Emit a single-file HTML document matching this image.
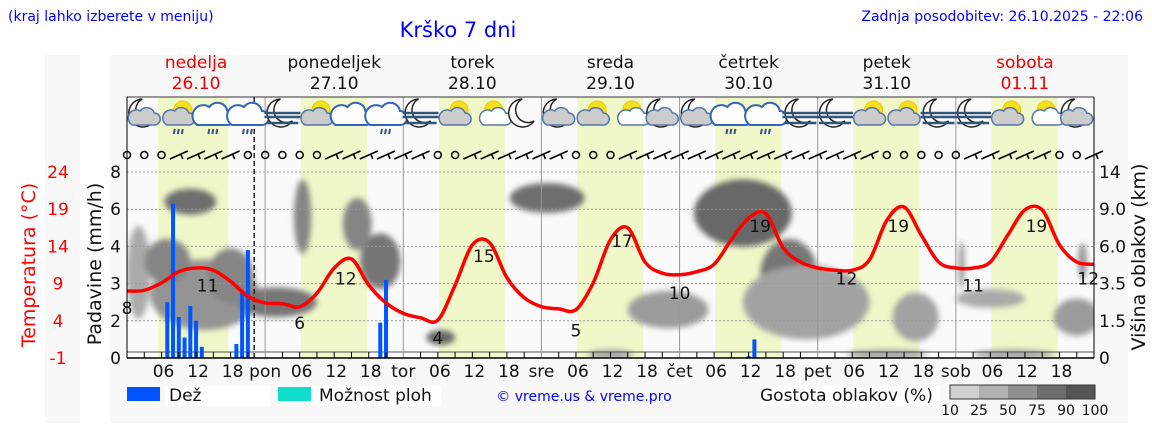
<!DOCTYPE html>
<html><head><meta charset="utf-8"><style>
body{margin:0;background:#fff;width:1152px;height:443px;overflow:hidden;font-family:"Liberation Sans","DejaVu Sans",sans-serif}
svg text{font-family:"DejaVu Sans","Liberation Sans",sans-serif}
</style></head><body>
<svg id="c" width="1152" height="443" viewBox="0 0 1152 443">
<defs><filter id="bl" x="-50%" y="-50%" width="200%" height="200%"><feGaussianBlur stdDeviation="3"/></filter>
<clipPath id="pc"><rect x="127" y="172" width="967" height="186"/></clipPath></defs>
<rect x="45" y="55" width="35" height="368" fill="#f8f8f8"/>
<rect x="110" y="55" width="1018" height="368" fill="#f8f8f8"/>
<text x="8" y="21" font-size="14" fill="#0000ff">(kraj lahko izberete v meniju)</text>
<text x="458" y="37" font-size="21" fill="#0000ff" text-anchor="middle">Krško 7 dni</text>
<text x="1143" y="21" font-size="14" fill="#0000ff" text-anchor="end">Zadnja posodobitev: 26.10.2025 - 22:06</text>
<g id="g"></g>
</svg>
<script>
const days=["nedelja","ponedeljek","torek","sreda","četrtek","petek","sobota"];
const dates=["26.10","27.10","28.10","29.10","30.10","31.10","01.11"];
const dayAbbr=["","pon","tor","sre","čet","pet","sob"];
const tempVals=[8.0,8.1,9.1,10.6,11.1,10.8,9.3,7.3,6.4,6.3,5.9,7.7,11.1,12.3,8.8,6.4,5.0,4.4,4.1,8.8,14.2,14.5,9.8,7.1,5.9,5.6,5.5,9.1,14.9,16.5,11.9,10.4,10.2,10.6,11.6,14.9,17.8,18.4,13.8,11.9,11.1,10.8,10.8,12.2,17.5,19.3,15.5,11.9,11.1,11.1,11.9,15.5,18.9,18.9,14.2,11.9,11.6];
const tempLabelHours=[0,14,30,38,54,62,78,86,96,110,125,134,147,158,167];
const tempLabelVals=[8,11,6,12,4,15,5,17,10,19,12,19,11,19,12];
const rainHours=[7,8,9,10,11,12,13,19,20,21,22,44,45,108,109];
const rainVals=[2.5,6.3,2.1,1.1,2.4,2.0,0.6,0.75,2.75,3.9,0.05,1.9,3.1,0.1,1.0];
const precipTicks=[0,2,3,4,6,8];
const tempTicks=[-1,4,9,14,19,24];
const kmTicks=["0","1.5","3.5","6.0","9.0","14"];
const cloudH=[2,13.5,11,26,30.5,44,40,73,94,54.5,107,115,118,137,150,145,165,166,84,132,154,7,18];
const cloudLvl=[2.3,1.7,4.2,1.5,3.8,2.6,3.6,4.3,1.3,0.55,3.9,2.2,1.5,1.1,1.6,2.5,1.1,2.6,0.1,0.1,0.1,2.6,2.2];
const cloudW=[4,19,9,14,3,7,5,13,14,5,17,10,22,8,12,1,8,1.5,8,14,14,8,8];
const cloudHt=[2.5,1.9,0.7,0.8,2,1.5,1.4,0.8,1.0,0.4,1.8,2,2,1.3,0.5,1.3,1,1,0.25,0.25,0.25,1.2,1.5];
const cloudD=[0.3,0.45,0.7,0.65,0.55,0.65,0.55,0.7,0.4,0.75,0.75,0.65,0.35,0.35,0.3,0.45,0.4,0.45,0.35,0.35,0.35,0.55,0.55];
const icons=["mc","sr","cr","cr","mf","sc","c","cr","mf","sc","ss","m","mc","sc","ss","mc","mc","cr","cr","mf","mf","sc","sc","mf","mf","sc","ss","mc"];
const wind=["o","o","o","b","b","b","b","o","o","o","o","o","b","b","b","b","b","b","o","o","b","b","b","b","b","b","o","o","o","b","b","b","b","b","b","b","b","b","b","b","b","b","b","b","o","o","o","o","o","b","b","b","b","b","o","o","b","b","b","b","b"];
const X0=127,PX=967/168,Y0=358,STEP=37.2;
const xH=h=>X0+h*PX;
const yT=t=>Y0-(t+1)/5*STEP;
function yP(v){for(let i=1;i<precipTicks.length;i++){if(v<=precipTicks[i]){const a=precipTicks[i-1],b=precipTicks[i];return Y0-(i-1+(v-a)/(b-a))*STEP;}}return Y0-5*STEP;}
const yL=l=>Y0-l*STEP;
const NS="http://www.w3.org/2000/svg",G=document.getElementById('g');
function el(t,a,p){const e=document.createElementNS(NS,t);for(const k in a)e.setAttribute(k,a[k]);(p||G).appendChild(e);return e;}
el('rect',{x:127,y:97,width:967,height:261,fill:'#fafafa'});
for(let d=0;d<7;d++){
 const b=el('rect',{x:xH(d*24+(d==0?5.4:6.2)),y:97,width:(d==0?12.2:11.5)*PX,height:261,fill:'#f0f7c8'});
 
 
}
const cg=el('g',{'clip-path':'url(#pc)'});
const cg2=el('g',{filter:'url(#bl)'},cg);
for(let i=0;i<cloudH.length;i++){
 const c=Math.round(215-cloudD[i]*150);
 const e=el('ellipse',{cx:xH(cloudH[i]),cy:yL(cloudLvl[i]),rx:cloudW[i]*PX/2,ry:cloudHt[i]*STEP/2,fill:`rgb(${c},${c},${c})`},cg2);
 
 
}
for(let i=1;i<6;i++)el('line',{x1:127,x2:1094,y1:Y0-i*STEP,y2:Y0-i*STEP,stroke:'#999','stroke-dasharray':'2,2','stroke-width':1});
el('line',{x1:127,x2:1094,y1:352,y2:352,stroke:'#555','stroke-width':1});
for(let d=1;d<7;d++)el('line',{x1:xH(d*24),x2:xH(d*24),y1:97,y2:358,stroke:'#999'});
el('line',{x1:127,x2:1094,y1:97,y2:97,stroke:'#333'});
el('line',{x1:xH(22.1),x2:xH(22.1),y1:97,y2:358,stroke:'#222','stroke-dasharray':'5,3','stroke-width':1.5});
for(let i=0;i<rainHours.length;i++){
 const y=yP(rainVals[i]);
 const r=el('rect',{x:xH(rainHours[i])-2,y:y,width:4,height:Y0-y,fill:'#0055ff'});
 
 
}
// smooth temp line
const pts=tempVals.map((t,i)=>[xH(i*3),yT(t)]);
let d='M'+pts[0][0].toFixed(1)+','+pts[0][1].toFixed(1);
for(let i=0;i<pts.length-1;i++){
 const p0=pts[Math.max(0,i-1)],p1=pts[i],p2=pts[i+1],p3=pts[Math.min(pts.length-1,i+2)];
 const c1=[p1[0]+(p2[0]-p0[0])/6,p1[1]+(p2[1]-p0[1])/6],c2=[p2[0]-(p3[0]-p1[0])/6,p2[1]-(p3[1]-p1[1])/6];
 d+=`C${c1[0].toFixed(1)},${c1[1].toFixed(1)} ${c2[0].toFixed(1)},${c2[1].toFixed(1)} ${p2[0].toFixed(1)},${p2[1].toFixed(1)}`;
}
const tl=el('path',{d:d,fill:'none',stroke:'#ff0000','stroke-width':3.5,'stroke-linejoin':'round'});


tempLabelHours.forEach((h,i)=>{
 const v=tempLabelVals[i];
 const t=el('text',{x:xH(h),y:yT(v)+23,'font-size':17,'text-anchor':'middle',fill:'#111'});
 t.textContent=v;
 
 
});
el('line',{x1:127,x2:127,y1:97,y2:358,stroke:'#000'});
el('line',{x1:1094,x2:1094,y1:97,y2:358,stroke:'#000'});
el('line',{x1:127,x2:1094,y1:358,y2:358,stroke:'#000','stroke-width':1.5});
for(let h=3;h<168;h+=3)if(h%24)el('line',{x1:xH(h),x2:xH(h),y1:358,y2:352,stroke:'#000','stroke-width':1});
for(let i=0;i<6;i++){
 const y=Y0-i*STEP;
 let t=el('text',{x:121,y:y+6,'font-size':17,'text-anchor':'end',fill:'#111'});t.textContent=precipTicks[i];
 
 t=el('text',{x:58,y:y+6,'font-size':17,'text-anchor':'middle',fill:'#ff0000'});t.textContent=tempTicks[i];
 
 t=el('text',{x:1099,y:y+6,'font-size':17,fill:'#111'});t.textContent=kmTicks[i];
 
}
for(let dd=0;dd<7;dd++){
 ["06","12","18"].forEach((s,k)=>{const t=el('text',{x:xH(dd*24+6*(k+1))+2,y:377,'font-size':17,'text-anchor':'middle',fill:'#111'});t.textContent=s;
 });
 if(dd>0){const t=el('text',{x:xH(dd*24),y:377,'font-size':17,'text-anchor':'middle',fill:'#111'});t.textContent=dayAbbr[dd];
 }
 const red=dd==0||dd==6?'#ee0000':'#111';
 let t=el('text',{x:xH(dd*24+12),y:68,'font-size':17,'text-anchor':'middle',fill:red});t.textContent=days[dd];
 
 t=el('text',{x:xH(dd*24+12),y:89,'font-size':17,'text-anchor':'middle',fill:red});t.textContent=dates[dd];
 
}
let at=el('text',{transform:'translate(35,265) rotate(-90)','font-size':19,'text-anchor':'middle',fill:'#ff0000'});at.textContent='Temperatura (°C)';

at=el('text',{transform:'translate(101,264) rotate(-90)','font-size':19,'text-anchor':'middle',fill:'#111'});at.textContent='Padavine (mm/h)';

at=el('text',{transform:'translate(1145,257) rotate(-90)','font-size':19,'text-anchor':'middle',fill:'#111'});at.textContent='Višina oblakov (km)';

icons.forEach((k,i)=>{
 const cx=xH(3+i*6),cy=115;
 const g=el('g',{});
 
 if(k[0]=='m'){el('path',{d:`M${cx-2},${cy-16} a14,14 0 1,0 12,22 a11,11 0 1,1 -12,-22z`,fill:'#fff',stroke:'#222','stroke-width':1.5},g);}
 if(k[0]=='s'){el('circle',{cx:cx+4,cy:cy-5,r:9,fill:'#f4e020',stroke:'#f0c800'},g);}
 if(k=='mc'||k=='sc'||k=='sr'||k=='ss'){const s=k=='ss'?0.6:1;el('path',{d:`M${cx-12*s+ (k=='ss'?10:0)},${cy+10} h${22*s} a6,6 0 0,0 0,-12 a8,8 0 0,0 -14,-2 a6,6 0 0,0 -8,14z`,fill:k=='ss'?'#fff':'#ccc',stroke:'#5577aa','stroke-width':1.5},g);}
 if(k=='c'||k=='cr'){el('path',{d:`M${cx-16},${cy+10} h30 a7,7 0 0,0 0,-14 a10,10 0 0,0 -18,-4 a8,8 0 0,0 -12,18z`,fill:'#fff',stroke:'#3366bb','stroke-width':2},g);}
 if(k=='cr'||k=='sr'){el('path',{d:`M${cx-4},${cy+14} l-1,5 M${cx},${cy+14} l-1,5 M${cx+4},${cy+14} l-1,5`,stroke:'#335588','stroke-width':2},g);}
 if(k[1]=='f'){el('path',{d:`M${cx-18},${cy-2} h36 M${cx-18},${cy+2} h36 M${cx-16},${cy+8} h32`,stroke:'#335577','stroke-width':2.5},g);}
});
wind.forEach((w,i)=>{
 const cx=xH(i*3),cy=155;
 if(cx>1094)return;
 let e;
 if(w=='o')e=el('circle',{cx:cx,cy:cy,r:3.5,fill:'none',stroke:'#000','stroke-width':1.5});
 else e=el('path',{d:`M${cx-9},${cy+4} L${cx+9},${cy-4} M${cx+2},${cy-1} l2,5`,stroke:'#000','stroke-width':1.6,fill:'none'});
 
});
el('rect',{x:127,y:387,width:33,height:14,fill:'#0055ff'});
el('rect',{x:165,y:386,width:105,height:20,fill:'#fff'});
let lt=el('text',{x:169,y:401,'font-size':17,fill:'#111'});lt.textContent='Dež';

el('rect',{x:278,y:387,width:33,height:14,fill:'#11ddcc'});
el('rect',{x:311,y:386,width:130,height:20,fill:'#fff'});
lt=el('text',{x:319,y:401,'font-size':17,fill:'#111'});lt.textContent='Možnost ploh';

lt=el('text',{x:584,y:401,'font-size':14,fill:'#0000ff','text-anchor':'middle'});lt.textContent='© vreme.us & vreme.pro';

el('rect',{x:760,y:386,width:180,height:20,fill:'#fff'});
lt=el('text',{x:760,y:401,'font-size':17,fill:'#111'});lt.textContent='Gostota oblakov (%)';

const shades=['#d0d0d0','#b0b0b0','#909090','#6e6e6e','#555'];
shades.forEach((c,i)=>el('rect',{x:950+i*29,y:385,width:29,height:14,fill:c}));
el('rect',{x:950,y:385,width:145,height:14,fill:'none',stroke:'#333'});
["10","25","50","75","90","100"].forEach((s,i)=>{const t=el('text',{x:950+i*29,y:415,'font-size':14,'text-anchor':'middle',fill:'#111'});t.textContent=s;
 });
</script>
</body></html>
